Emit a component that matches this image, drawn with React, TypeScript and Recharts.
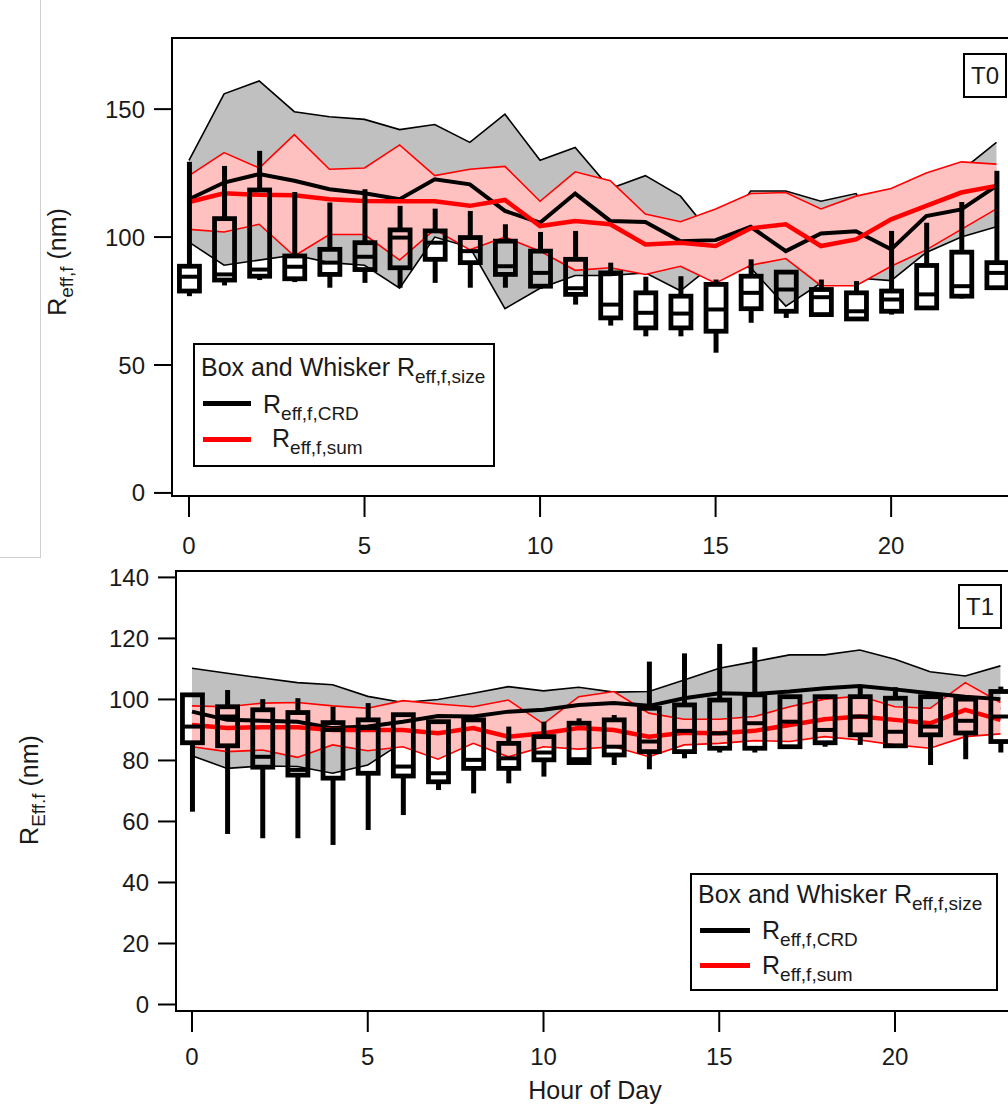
import React from "react";
import { ComposedChart, Area, Line, Bar, XAxis, YAxis, ReferenceArea } from "recharts";

const FONT = "'Liberation Sans', Arial, sans-serif";

const hours = [0, 1, 2, 3, 4, 5, 6, 7, 8, 9, 10, 11, 12, 13, 14, 15, 16, 17, 18, 19, 20, 21, 22, 23];

// ---- T0 (top panel) ----
const t0GreyHi = [130, 156, 161, 149, 147, 146, 142, 144, 137, 148, 130, 135, 119, 124, 116, 99, 118, 118, 114, 117, 97, 110, 126, 137];
const t0GreyLo = [98, 89, 91, 93, 90, 89, 80, 100, 96, 72, 80, 85, 85, 86, 79, 90, 88, 73, 82, 84, 83, 94, 100, 104];
const t0RedHi = [124, 133, 127, 140, 126.5, 127, 136, 124, 126.5, 127.6, 114, 125.5, 122, 109, 106, 111, 117, 117.4, 111, 116, 119, 125, 129.4, 128.5];
const t0RedLo = [103, 102, 105, 92.6, 101, 101, 91, 103, 95, 100, 94.5, 87, 88, 85.4, 88.6, 82, 89, 91.6, 81, 81, 88.6, 95, 103, 111];
const t0Crd = [114.8, 121.3, 124.6, 122, 118.7, 117.1, 114.8, 122.6, 120.6, 110.2, 105.6, 117, 106.3, 105.9, 98.4, 98.8, 104, 94.5, 101.4, 102.3, 95.2, 108.2, 110.8, 120];
const t0Sum = [113.7, 117.1, 116.5, 116.3, 114.8, 114.1, 114, 114, 112.2, 114.5, 104.3, 106.3, 105, 97.1, 97.8, 96.5, 103.4, 105, 96.5, 99.1, 106.9, 112.2, 117.4, 120];
const t0WhiskHi = [129.4, 127.8, 133.7, 117.6, 113.5, 118.7, 112.2, 111.1, 110.2, 105, 102, 102.4, 90, 84.5, 84.7, 83.4, 91.3, 86.7, 83.4, 82.8, 102.4, 105.6, 113.7, 125.9];
const t0Q3 = [88.6, 107.2, 118.4, 92.6, 95.2, 97.8, 102.8, 102.4, 99.8, 98.4, 94.5, 91.3, 86, 78.2, 76.9, 81.5, 84.7, 86.3, 79.5, 78.2, 78.9, 88.9, 94.1, 90];
const t0Med = [84.5, 85.4, 87.3, 88.4, 90, 92.3, 99.8, 97.8, 94.5, 88.6, 86, 80, 73.6, 70.4, 70.1, 71.7, 78.2, 79.5, 76.5, 71, 75.6, 77.6, 80.8, 86];
const t0Q1 = [78.9, 83.2, 84.7, 83.7, 85.4, 87.3, 88, 91.3, 90, 85.4, 80.8, 77.6, 68.4, 64.5, 64.5, 63.2, 72, 71, 69.7, 68, 71, 72.3, 76.9, 80.2];
const t0WhiskLo = [76.9, 81.1, 83.2, 82.4, 80.2, 82.1, 80.2, 82.1, 80.2, 80.2, 79.8, 73.6, 65.4, 61.2, 61.2, 54.8, 66.5, 68.4, 69, 67.5, 69.7, 72, 76, 79.5];

// ---- T1 (bottom panel) ----
const t1GreyHi = [110.2, 108.6, 107, 105.5, 104.8, 101, 99, 100, 102, 104.2, 102.8, 104, 102.4, 102.6, 106.4, 110.2, 112.4, 114.6, 114.6, 116.2, 113.2, 109.1, 107.7, 111];
const t1GreyLo = [81.5, 77.4, 78.2, 78, 75.8, 78.5, 86, 88, 88, 88, 88, 90, 92, 90, 92, 92, 92, 96, 98, 99, 96, 96, 98, 97];
const t1RedHi = [97.9, 97.6, 98.8, 99, 97.9, 97.1, 99.6, 98.5, 97.6, 99.8, 92, 100.9, 102.6, 95.5, 93.5, 93.5, 94.4, 97.6, 100.1, 101.1, 97.6, 97.1, 105.5, 99];
const t1RedLo = [84.5, 82.9, 83.4, 81, 85.1, 83.2, 84.5, 80.4, 85.6, 81.2, 84.5, 83.7, 84.5, 81.2, 85.1, 85.6, 86.5, 86.2, 87.8, 86.7, 85.1, 84, 87.8, 88.7];
const t1Crd = [96, 93.3, 93, 92.7, 90.6, 91.1, 92.7, 94.6, 94.4, 96, 96.6, 98.2, 98.8, 97.9, 100.4, 102, 101.8, 102.6, 103.7, 104.4, 103.3, 102, 100.9, 100.1];
const t1Sum = [91.6, 90.6, 90.9, 90.9, 90, 90, 90, 88.9, 90.6, 87.8, 88.9, 90.6, 90, 87.8, 89.1, 88.9, 89.7, 91.6, 93.5, 94.4, 93.3, 92.2, 96.6, 93.3];
const t1WhiskHi = [101.5, 103.1, 100.1, 100.4, 97.6, 98.8, 95.2, 93.3, 93.5, 91.1, 92.7, 93.8, 94.9, 112.4, 115.1, 118.2, 117.1, 100.9, 101.5, 104.2, 104, 100.9, 100.1, 104.2];
const t1Q3 = [101.5, 97.6, 96.6, 95.7, 92.4, 93.3, 95, 92.7, 93.3, 85.6, 87.8, 92.2, 93.3, 97.1, 98.2, 99.8, 101.5, 100.9, 100.9, 100.9, 100.4, 100.9, 100.1, 102.6];
const t1Med = [91.1, 94.4, 81.2, 76.9, 90, 90.6, 78, 75.8, 80.2, 80.7, 82.6, 80.4, 84.5, 86.2, 89.7, 88.9, 92.2, 92.7, 90, 94.4, 89.4, 91.1, 93, 94.4];
const t1Q1 = [85.8, 84.8, 77.8, 75.2, 74.2, 75.8, 74.9, 73, 77.4, 77.4, 80.2, 79.3, 81.8, 82.9, 82.9, 84, 84, 84.5, 85.8, 88.4, 84.8, 88.4, 89, 86.2];
const t1WhiskLo = [63.2, 55.9, 54.5, 54.5, 52.3, 57.2, 62.1, 70.3, 69.2, 72.5, 74.7, 79, 78.5, 77.1, 80.7, 82.6, 82.6, 84, 84.5, 85.1, 84.5, 78.5, 80.4, 82.6];

const t0Ticks = [0, 50, 100, 150];
const t1Ticks = [0, 20, 40, 60, 80, 100, 120, 140];
const hourTicks = [0, 5, 10, 15, 20];

type Row = {
  hour: number;
  greyLo: number; greyHi: number;
  redLo: number; redHi: number;
  crd: number; sum: number;
  wHi: number; q3: number; med: number; q1: number; wLo: number;
};

function buildRows(
  greyHi: number[], greyLo: number[], redHi: number[], redLo: number[],
  crd: number[], sum: number[],
  wHi: number[], q3: number[], med: number[], q1: number[], wLo: number[]
): Row[] {
  return hours.map((h, i) => ({
    hour: h,
    greyLo: greyLo[i], greyHi: greyHi[i],
    redLo: redLo[i], redHi: redHi[i],
    crd: crd[i], sum: sum[i],
    wHi: wHi[i], q3: q3[i], med: med[i], q1: q1[i], wLo: wLo[i],
  }));
}

const t0Data = buildRows(t0GreyHi, t0GreyLo, t0RedHi, t0RedLo, t0Crd, t0Sum, t0WhiskHi, t0Q3, t0Med, t0Q1, t0WhiskLo);
const t1Data = buildRows(t1GreyHi, t1GreyLo, t1RedHi, t1RedLo, t1Crd, t1Sum, t1WhiskHi, t1Q3, t1Med, t1Q1, t1WhiskLo);

// box + whisker drawn inside the bar that spans whisker low..high
function BoxShape(props: any) {
  const { x, y, width, height } = props;
  const p = props.payload ?? props;
  if (x == null || y == null || p == null) return null;
  const top = Math.min(y, y + height);
  const h = Math.abs(height);
  const span = p.wHi - p.wLo;
  const k = span > 0 ? h / span : 0;
  const py = (v: number) => top + (p.wHi - v) * k;
  const cx = x + width / 2;
  const bw = 20;
  return (
    <g>
      <line x1={cx} x2={cx} y1={py(p.wHi)} y2={py(p.q3)} stroke="#000" strokeWidth={5} />
      <line x1={cx} x2={cx} y1={py(p.q1)} y2={py(p.wLo)} stroke="#000" strokeWidth={5} />
      <rect x={cx - bw / 2} y={py(p.q3)} width={bw} height={Math.max(py(p.q1) - py(p.q3), 0.5)} fill="none" stroke="#000" strokeWidth={4.8} />
      <line x1={cx - bw / 2} x2={cx + bw / 2} y1={py(p.med)} y2={py(p.med)} stroke="#000" strokeWidth={4} />
    </g>
  );
}

const tickStyle = { fill: "#1a1a1a", fontSize: 24, fontFamily: FONT };

function Panel({ data, xDomain, yDomain, yTicks, yAxisWidth, marginTop, height, xTickMargin }: {
  data: Row[]; xDomain: [number, number]; yDomain: [number, number]; yTicks: number[];
  yAxisWidth: number; marginTop: number; height: number; xTickMargin: number;
}) {
  return (
    <ComposedChart width={1040} height={height} data={data} margin={{ top: marginTop, right: 1040 - yAxisWidth - 842, bottom: 4, left: 0 }}>
      <XAxis
        type="number"
        dataKey="hour"
        domain={xDomain}
        ticks={hourTicks}
        allowDataOverflow
        interval={0}
        axisLine={false}
        tickLine={{ stroke: "#000", strokeWidth: 2 }}
        tickSize={21}
        tickMargin={xTickMargin}
        tick={tickStyle}
        height={60}
      />
      <YAxis
        type="number"
        domain={yDomain}
        ticks={yTicks}
        allowDataOverflow
        interval={0}
        width={yAxisWidth}
        axisLine={false}
        tickLine={{ stroke: "#000", strokeWidth: 2 }}
        tickSize={18}
        tickMargin={9}
        tick={tickStyle}
      />
      <Area
        type="linear"
        dataKey={(d: Row) => [d.greyLo, d.greyHi]}
        fill="#c0c0c0"
        fillOpacity={1}
        stroke="#000"
        strokeWidth={1.6}
        isAnimationActive={false}
        dot={false}
        activeDot={false}
      />
      <Area
        type="linear"
        dataKey={(d: Row) => [d.redLo, d.redHi]}
        fill="#ffc0c0"
        fillOpacity={1}
        stroke="#ff0000"
        strokeWidth={1.6}
        isAnimationActive={false}
        dot={false}
        activeDot={false}
      />
      <Line type="linear" dataKey="crd" stroke="#000" strokeWidth={4} dot={false} activeDot={false} isAnimationActive={false} />
      <Line type="linear" dataKey="sum" stroke="#ff0000" strokeWidth={4.5} dot={false} activeDot={false} isAnimationActive={false} />
      <Bar
        dataKey={(d: Row) => [d.wLo, d.wHi]}
        barSize={24}
        shape={BoxShape}
        isAnimationActive={false}
        zIndex={450}
      />
      <ReferenceArea
        x1={xDomain[0]}
        x2={xDomain[1]}
        y1={yDomain[0]}
        y2={yDomain[1]}
        fill="none"
        fillOpacity={0}
        stroke="#000"
        strokeWidth={2}
        ifOverflow="visible"
        zIndex={700}
      />
    </ComposedChart>
  );
}

function R({ sub, size = 25 }: { sub: string; size?: number }) {
  return (
    <span>
      R<span style={{ fontSize: Math.round(size * 0.77), position: "relative", top: size * 0.28 }}>{sub}</span>
    </span>
  );
}

function LegendBox({ left, top, width, height, titleLeft, titleTop, rows }: {
  left: number; top: number; width: number; height: number; titleLeft: number; titleTop: number;
  rows: { color: string; lineTop: number; lineW: number; textLeft: number; textTop: number; sub: string }[];
}) {
  return (
    <div style={{ position: "absolute", left, top, width, height, border: "2px solid #000", boxSizing: "border-box", background: "#fff", fontFamily: FONT, fontSize: 25, color: "#1a1a1a", lineHeight: "28px" }}>
      <div style={{ position: "absolute", left: titleLeft, top: titleTop, whiteSpace: "nowrap" }}>
        Box and Whisker <R sub="eff,f,size" />
      </div>
      {rows.map((r, i) => (
        <React.Fragment key={i}>
          <div style={{ position: "absolute", left: 8, top: r.lineTop, width: r.lineW, height: 5, background: r.color }} />
          <div style={{ position: "absolute", left: r.textLeft, top: r.textTop, whiteSpace: "nowrap" }}>
            <R sub={r.sub} />
          </div>
        </React.Fragment>
      ))}
    </div>
  );
}

function TagBox({ left, top, label }: { left: number; top: number; label: string }) {
  return (
    <div style={{ position: "absolute", left, top, width: 44, height: 45, border: "2px solid #000", boxSizing: "border-box", background: "#fff", fontFamily: FONT, fontSize: 24, color: "#1a1a1a", display: "flex", alignItems: "center", justifyContent: "center" }}>
      {label}
    </div>
  );
}

const labelStyle: React.CSSProperties = { position: "absolute", whiteSpace: "nowrap", fontFamily: FONT, fontSize: 25, color: "#1a1a1a", lineHeight: "28px" };

export default function App() {
  return (
    <div style={{ position: "absolute", left: 0, top: 0, width: 1008, height: 1105, overflow: "hidden", background: "#fff" }}>
      {/* cropped frame remnant on the left */}
      <div style={{ position: "absolute", left: 40, top: 0, width: 1, height: 557, background: "#cfcfcf" }} />
      <div style={{ position: "absolute", left: 0, top: 557, width: 41, height: 1, background: "#cfcfcf" }} />

      <div style={{ position: "absolute", left: 0, top: 0 }}>
        <Panel data={t0Data} xDomain={[-0.484, 23.5]} yDomain={[-1.2, 177.8]} yTicks={t0Ticks} yAxisWidth={172} marginTop={38} height={560} xTickMargin={20} />
      </div>
      <div style={{ position: "absolute", left: 0, top: 520 }}>
        <Panel data={t1Data} xDomain={[-0.456, 23.5]} yDomain={[-2.13, 142.1]} yTicks={t1Ticks} yAxisWidth={176} marginTop={51} height={555} xTickMargin={16} />
      </div>

      <div style={{ ...labelStyle, left: 58, top: 262, transform: "translate(-50%, -50%) rotate(-90deg)" }}>
        <R sub="eff,f" /> (nm)
      </div>
      <div style={{ ...labelStyle, left: 30, top: 790, transform: "translate(-50%, -50%) rotate(-90deg)" }}>
        <R sub="Eff.f" /> (nm)
      </div>
      <div style={{ ...labelStyle, left: 595, top: 1090, transform: "translate(-50%, -50%)" }}>
        Hour of Day
      </div>

      <LegendBox
        left={193} top={343} width={302} height={124} titleLeft={6} titleTop={8}
        rows={[
          { color: "#000", lineTop: 56, lineW: 48, textLeft: 68, textTop: 45, sub: "eff,f,CRD" },
          { color: "#ff0000", lineTop: 92, lineW: 48, textLeft: 77, textTop: 79, sub: "eff,f,sum" },
        ]}
      />
      <LegendBox
        left={690} top={873} width={308} height={118} titleLeft={6} titleTop={5}
        rows={[
          { color: "#000", lineTop: 53, lineW: 50, textLeft: 70, textTop: 41, sub: "eff,f,CRD" },
          { color: "#ff0000", lineTop: 88, lineW: 50, textLeft: 70, textTop: 76, sub: "eff,f,sum" },
        ]}
      />

      <TagBox left={963} top={53} label="T0" />
      <TagBox left={958} top={584} label="T1" />
    </div>
  );
}
